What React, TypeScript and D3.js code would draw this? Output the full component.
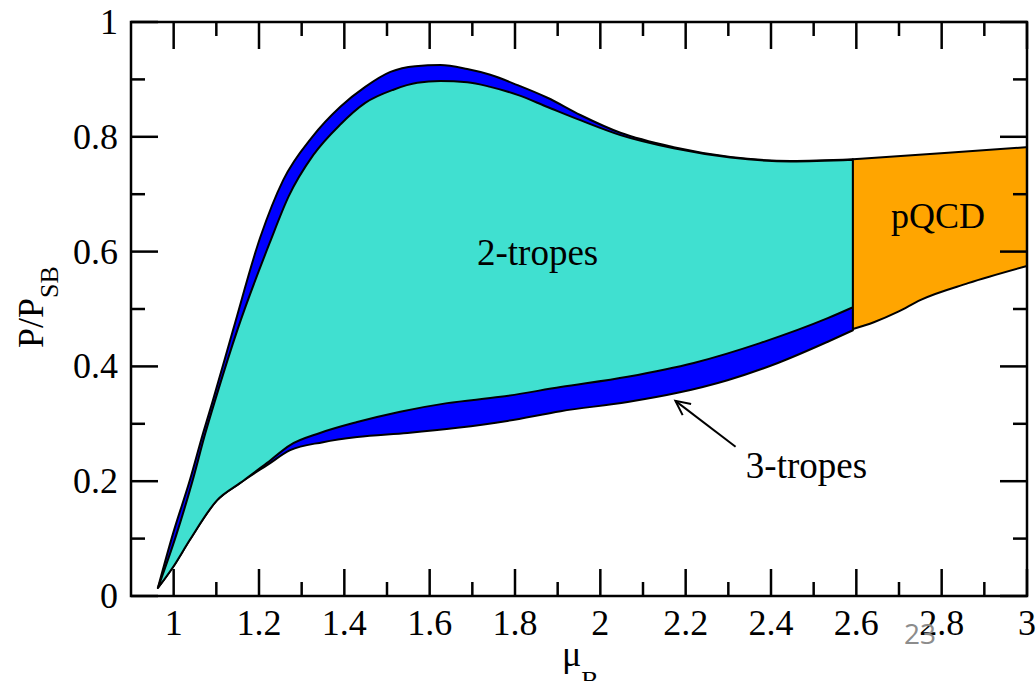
import React from 'react';
import * as d3 from 'd3';

// boundaries of the bands, [muB, P/PSB]
const threeTropesUpper = [
  [0.963, 0.014], [0.999, 0.110], [1.038, 0.202], [1.069, 0.284], [1.092, 0.341],
  [1.139, 0.463], [1.203, 0.625], [1.257, 0.725], [1.325, 0.800], [1.390, 0.852],
  [1.449, 0.887], [1.508, 0.913], [1.566, 0.923], [1.625, 0.925], [1.688, 0.918],
  [1.742, 0.908], [1.806, 0.890], [1.876, 0.868], [1.953, 0.838], [2.047, 0.807],
  [2.172, 0.782], [2.305, 0.765], [2.446, 0.758], [2.592, 0.761]
];
const threeTropesLower = [
  [0.963, 0.014], [0.999, 0.051], [1.038, 0.098], [1.102, 0.167], [1.156, 0.197],
  [1.219, 0.228], [1.273, 0.254], [1.350, 0.268], [1.430, 0.277], [1.548, 0.284],
  [1.665, 0.293], [1.782, 0.305], [1.907, 0.322], [2.064, 0.338], [2.181, 0.354],
  [2.298, 0.376], [2.416, 0.406], [2.533, 0.443], [2.592, 0.463]
];
const twoTropesUpper = [
  [0.963, 0.014], [1.006, 0.106], [1.044, 0.200], [1.074, 0.283], [1.098, 0.343],
  [1.150, 0.465], [1.225, 0.615], [1.270, 0.697], [1.327, 0.768], [1.390, 0.821],
  [1.449, 0.859], [1.515, 0.882], [1.571, 0.894], [1.625, 0.897], [1.688, 0.895],
  [1.742, 0.887], [1.806, 0.873], [1.876, 0.852], [1.953, 0.829], [2.047, 0.803],
  [2.172, 0.780], [2.305, 0.764], [2.446, 0.757], [2.592, 0.760]
];
const twoTropesLower = [
  [0.963, 0.014], [0.999, 0.051], [1.038, 0.098], [1.102, 0.167], [1.156, 0.197],
  [1.219, 0.232], [1.273, 0.263], [1.343, 0.284], [1.430, 0.303], [1.531, 0.321],
  [1.641, 0.336], [1.766, 0.347], [1.907, 0.364], [2.064, 0.382], [2.219, 0.406],
  [2.376, 0.441], [2.533, 0.484], [2.592, 0.503]
];
const pqcdUpper = [[2.592, 0.761], [2.815, 0.772], [3.0, 0.782]];
const pqcdLower = [
  [2.592, 0.465], [2.641, 0.477], [2.697, 0.495], [2.751, 0.516], [2.862, 0.545], [3.0, 0.575]
];

const xMajor = [1, 1.2, 1.4, 1.6, 1.8, 2, 2.2, 2.4, 2.6, 2.8, 3];
const xMinor = [1.1, 1.3, 1.5, 1.7, 1.9, 2.1, 2.3, 2.5, 2.7, 2.9];
const yMajor = [0, 0.2, 0.4, 0.6, 0.8, 1];
const yMinor = [0.1, 0.3, 0.5, 0.7, 0.9];

// arrow pointing at the 3-tropes band: [tail, tip]
const arrow = [[2.317, 0.260], [2.176, 0.340]];

const W = 1036;
const H = 681;
const margin = { left: 131, right: 9, top: 22, bottom: 85 };
const serif = '"Liberation Serif", "Times New Roman", serif';

export default function App() {
  const x = d3.scaleLinear().domain([0.9, 3.0]).range([margin.left, W - margin.right]);
  const y = d3.scaleLinear().domain([0, 1]).range([H - margin.bottom, margin.top]);

  const line = d3.line<number[]>()
    .x(d => x(d[0]))
    .y(d => y(d[1]))
    .curve(d3.curveMonotoneX);

  const band = (upper: number[][], lower: number[][]) =>
    line(upper) + (line([...lower].reverse()) as string).replace(/^M/, 'L') + 'Z';

  const x0 = x(0.9), x1 = x(3.0), y0 = y(0), y1 = y(1);
  const majorLen = 27, minorLen = 14;

  const [tail, tip] = arrow;
  const tx = x(tip[0]), ty = y(tip[1]);
  const ang = Math.atan2(y(tail[1]) - ty, x(tail[0]) - tx);
  const head = [ang - 0.45, ang + 0.45].map(a => [tx + 16 * Math.cos(a), ty + 16 * Math.sin(a)]);

  return (
    <svg width={W} height={H} style={{ position: 'absolute', left: 0, top: 0, background: '#fff' }}>
      <g stroke="#000" strokeWidth={2} strokeLinejoin="round">
        <path d={band(threeTropesUpper, threeTropesLower)} fill="#0000ff" />
        <path d={band(twoTropesUpper, twoTropesLower)} fill="#40e0d0" />
        <path d={band(pqcdUpper, pqcdLower)} fill="#ffa500" />
      </g>

      {/* frame and inward ticks on all sides */}
      <g stroke="#000" strokeWidth={2.5} fill="none">
        <rect x={x0} y={y1} width={x1 - x0} height={y0 - y1} />
        {xMajor.concat(xMinor).map((v, i) => {
          const len = xMajor.includes(v) ? majorLen : minorLen;
          return (
            <g key={'xt' + i}>
              <line x1={x(v)} x2={x(v)} y1={y0} y2={y0 - len} />
              <line x1={x(v)} x2={x(v)} y1={y1} y2={y1 + len} />
            </g>
          );
        })}
        {yMajor.concat(yMinor).map((v, i) => {
          const len = yMajor.includes(v) ? majorLen : minorLen;
          return (
            <g key={'yt' + i}>
              <line x1={x0} x2={x0 + len} y1={y(v)} y2={y(v)} />
              <line x1={x1} x2={x1 - len} y1={y(v)} y2={y(v)} />
            </g>
          );
        })}
      </g>

      <g fontFamily={serif} fontSize={36} fill="#000">
        {xMajor.map(v => (
          <text key={'xl' + v} x={x(v)} y={y0 + 39} textAnchor="middle">{String(v)}</text>
        ))}
        {yMajor.map(v => (
          <text key={'yl' + v} x={x0 - 13} y={y(v) + 12} textAnchor="end">{String(v)}</text>
        ))}

        <text transform="translate(43,307) rotate(-90)" textAnchor="middle">
          P/P<tspan fontSize={26} dy={15}>SB</tspan>
        </text>
        <text x={562} y={666}>
          μ<tspan fontSize={26} dy={23}>B</tspan>
        </text>

        <text x={x(1.853)} y={y(0.577)} textAnchor="middle" fontSize={37}>2-tropes</text>
        <text x={x(2.681)} y={y(0.641)} fontSize={36}>pQCD</text>
        <text x={x(2.341)} y={y(0.206)} fontSize={37}>3-tropes</text>
      </g>

      <g stroke="#000" strokeWidth={2} fill="none">
        <line x1={x(tail[0])} y1={y(tail[1])} x2={tx} y2={ty} />
        <polyline points={`${head[0][0]},${head[0][1]} ${tx},${ty} ${head[1][0]},${head[1][1]}`} />
      </g>

      <text x={904} y={644} fontFamily='"Open Sans", sans-serif' fontSize={28} fill="#8c8c8c">23</text>
    </svg>
  );
}
